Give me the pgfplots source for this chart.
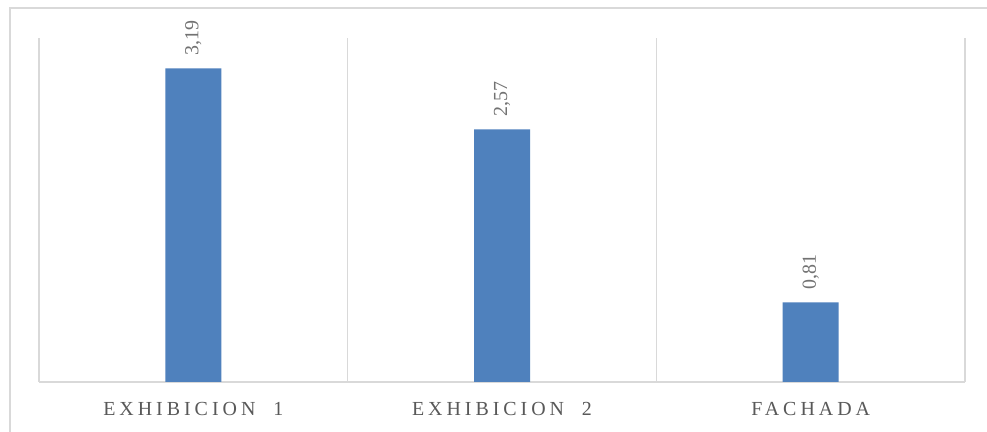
\documentclass[border=0pt]{standalone}
\usepackage{fontspec}
\setmainfont{Liberation Serif}
\newfontfamily\catfont[LetterSpace=20]{Liberation Serif}
\usepackage{pgfplots}
\pgfplotsset{compat=1.18}
\definecolor{barblue}{HTML}{4F81BD}
\definecolor{gridgray}{HTML}{D9D9D9}
\definecolor{textgray}{HTML}{595959}
\begin{document}
\begin{tikzpicture}
\useasboundingbox (0bp,0bp) rectangle (987bp,432bp);
\fill[white] (0bp,0bp) rectangle (987bp,432bp);
% chart frame (top and left edges)
\draw[gridgray, line width=1.5bp] (10bp,0bp) -- (10bp,424bp) -- (987bp,424bp);
\begin{axis}[
  at={(39bp,50bp)}, anchor=south west,
  scale only axis, width=926bp, height=344bp,
  xmin=-0.5, xmax=2.5, ymin=0, ymax=3.5,
  axis y line=none, axis x line*=bottom,
  x axis line style={gridgray, line width=1.5bp, -},
  xtick={-0.5,0.5,1.5,2.5}, xticklabels={}, major tick length=0pt,
  xmajorgrids, grid style={gridgray, line width=1.2bp},
  extra x ticks={0,1,2},
  extra x tick labels={EXHIBICION\ \ 1, EXHIBICION\ \ 2, FACHADA},
  extra x tick style={grid=none, major tick length=0pt,
    tick label style={font=\catfont\fontsize{20}{24}\selectfont, text=textgray, yshift=-17bp}},
  ybar, bar width=56bp,
  nodes near coords,
  /pgf/number format/.cd, use comma, fixed, fixed zerofill, precision=2, assume math mode=true,
  /pgfplots/.cd,
  every node near coord/.append style={rotate=90, anchor=west, inner sep=0pt,
    xshift=13bp, font=\fontsize{20}{24}\selectfont, text=textgray!85},
]
\addplot[fill=barblue, draw=none] coordinates {(0,3.19) (1,2.57) (2,0.81)};
\end{axis}
\end{tikzpicture}
\end{document}
